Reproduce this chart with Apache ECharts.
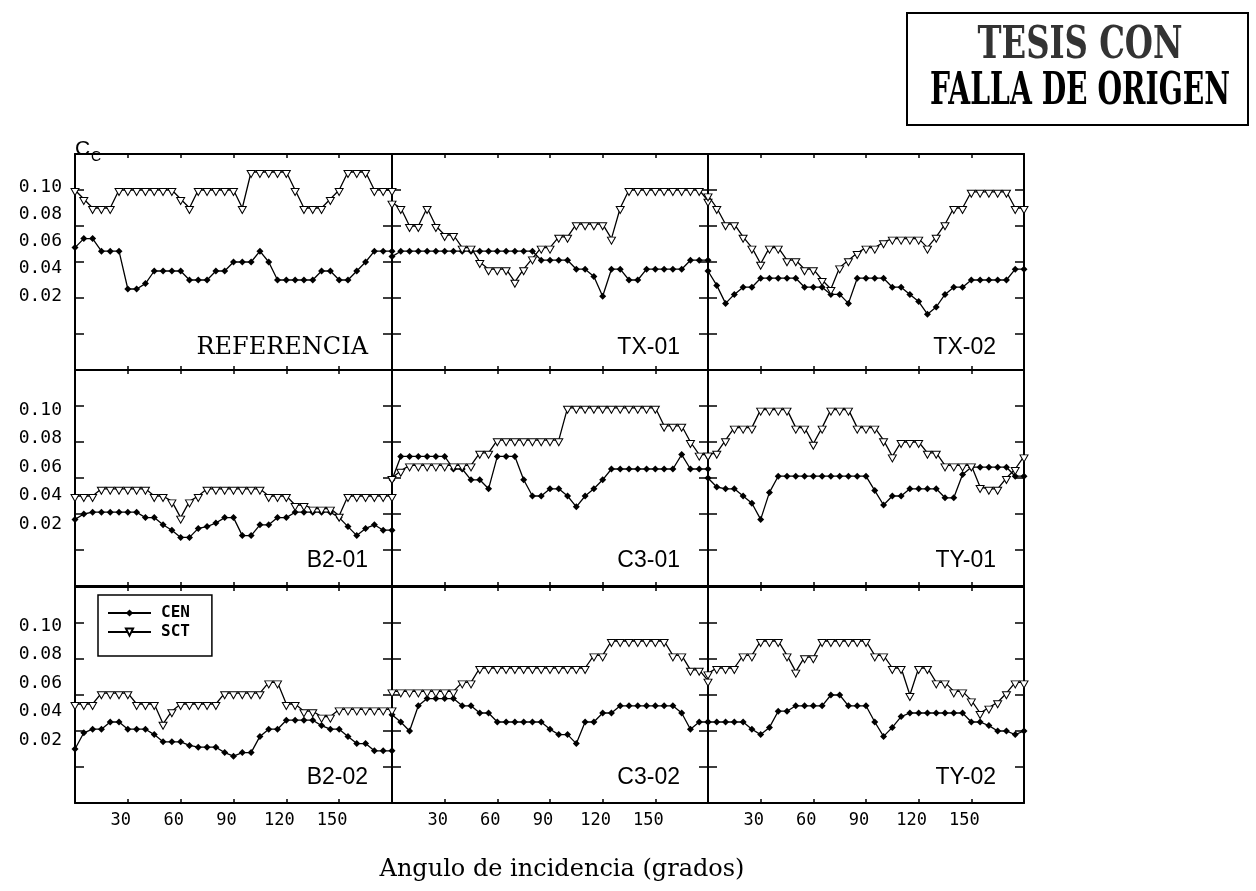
<!DOCTYPE html>
<html>
<head>
<meta charset="utf-8">
<script src="https://cdn.jsdelivr.net/npm/echarts@6/dist/echarts.min.js"></script>
<style>
html,body{margin:0;padding:0;background:#fff;}
#chart{width:1256px;height:891px;}
</style>
</head>
<body>
<div id="chart"></div>
<script>
// Incidence angles (degrees), shared by every panel
const angles = [0,5,10,15,20,25,30,35,40,45,50,55,60,65,70,75,80,85,90,95,100,105,110,115,120,125,130,135,140,145,150,155,160,165,170,175,180];

const xTickLabels = [30, 60, 90, 120, 150];
const yTickLabels = ['0.02', '0.04', '0.06', '0.08', '0.10'];
const panelNames = ['REFERENCIA', 'TX-01', 'TX-02', 'B2-01', 'C3-01', 'TY-01', 'B2-02', 'C3-02', 'TY-02'];
const seriesNames = ['CEN', 'SCT'];
const axisTitle = 'Angulo de incidencia (grados)';
const stampLines = ['TESIS CON', 'FALLA DE ORIGEN'];

// Cc per panel: CEN and SCT
const refCen = [0.068,0.073,0.073,0.066,0.066,0.066, 0.045,0.045,0.048,0.055,0.055,0.055, 0.055,0.050,0.050,0.050,0.055,0.055, 0.060,0.060,0.060,0.066,0.060,0.050, 0.050,0.050,0.050,0.050,0.055,0.055, 0.050,0.050,0.055,0.060,0.066,0.066,0.066];
const refSct = [0.100,0.095,0.090,0.090,0.090,0.100, 0.100,0.100,0.100,0.100,0.100,0.100, 0.095,0.090,0.100,0.100,0.100,0.100, 0.100,0.090,0.110,0.110,0.110,0.110, 0.110,0.100,0.090,0.090,0.090,0.095, 0.100,0.110,0.110,0.110,0.100,0.100,0.100];

const tx01Cen = [0.063,0.066,0.066,0.066,0.066,0.066, 0.066,0.066,0.066,0.066,0.066,0.066, 0.066,0.066,0.066,0.066,0.066,0.061, 0.061,0.061,0.061,0.056,0.056,0.052, 0.041,0.056,0.056,0.050,0.050,0.056, 0.056,0.056,0.056,0.056,0.061,0.061,0.061];
const tx01Sct = [0.093,0.090,0.080,0.080,0.090,0.080, 0.075,0.075,0.068,0.068,0.060,0.056, 0.056,0.056,0.049,0.056,0.062,0.068, 0.068,0.074,0.074,0.081,0.081,0.081, 0.081,0.073,0.090,0.100,0.100,0.100, 0.100,0.100,0.100,0.100,0.100,0.100,0.094];

const tx02Cen = [0.055,0.047,0.037,0.042,0.046,0.046, 0.051,0.051,0.051,0.051,0.051,0.046, 0.046,0.046,0.042,0.042,0.037,0.051, 0.051,0.051,0.051,0.046,0.046,0.042, 0.038,0.031,0.035,0.042,0.046,0.046, 0.050,0.050,0.050,0.050,0.050,0.056,0.056];
const tx02Sct = [0.097,0.090,0.081,0.081,0.074,0.068, 0.059,0.068,0.068,0.061,0.061,0.056, 0.056,0.050,0.045,0.057,0.061,0.065, 0.068,0.068,0.071,0.073,0.073,0.073, 0.073,0.068,0.074,0.081,0.090,0.090, 0.099,0.099,0.099,0.099,0.099,0.090,0.090];

const b201Cen = [0.037,0.040,0.041,0.041,0.041,0.041, 0.041,0.041,0.038,0.038,0.034,0.031, 0.027,0.027,0.032,0.033,0.035,0.038, 0.038,0.028,0.028,0.034,0.034,0.038, 0.038,0.041,0.041,0.041,0.041,0.041, 0.038,0.033,0.028,0.032,0.034,0.031,0.031];
const b201Sct = [0.050,0.050,0.050,0.054,0.054,0.054, 0.054,0.054,0.054,0.050,0.050,0.047, 0.038,0.047,0.050,0.054,0.054,0.054, 0.054,0.054,0.054,0.054,0.050,0.050, 0.050,0.045,0.045,0.043,0.043,0.043, 0.039,0.050,0.050,0.050,0.050,0.050,0.050];

const c301Cen = [0.059,0.072,0.072,0.072,0.072,0.072, 0.072,0.065,0.065,0.059,0.059,0.054, 0.072,0.072,0.072,0.059,0.050,0.050, 0.054,0.054,0.050,0.044,0.050,0.054, 0.059,0.065,0.065,0.065,0.065,0.065, 0.065,0.065,0.065,0.073,0.065,0.065,0.065];
const c301Sct = [0.060,0.064,0.067,0.067,0.067,0.067, 0.067,0.067,0.067,0.067,0.074,0.074, 0.081,0.081,0.081,0.081,0.081,0.081, 0.081,0.081,0.099,0.099,0.099,0.099, 0.099,0.099,0.099,0.099,0.099,0.099, 0.099,0.089,0.089,0.089,0.080,0.073,0.073];

const ty01Cen = [0.060,0.055,0.054,0.054,0.050,0.046, 0.037,0.052,0.061,0.061,0.061,0.061, 0.061,0.061,0.061,0.061,0.061,0.061, 0.061,0.053,0.045,0.050,0.050,0.054, 0.054,0.054,0.054,0.049,0.049,0.062, 0.066,0.066,0.066,0.066,0.066,0.061,0.061];
const ty01Sct = [0.073,0.074,0.081,0.088,0.088,0.088, 0.098,0.098,0.098,0.098,0.088,0.088, 0.079,0.088,0.098,0.098,0.098,0.088, 0.088,0.088,0.081,0.072,0.080,0.080, 0.080,0.074,0.074,0.067,0.067,0.067, 0.067,0.055,0.054,0.054,0.060,0.065,0.072];

const b202Cen = [0.030,0.039,0.041,0.041,0.045,0.045, 0.041,0.041,0.041,0.038,0.034,0.034, 0.034,0.032,0.031,0.031,0.031,0.028, 0.026,0.028,0.028,0.037,0.041,0.041, 0.046,0.046,0.046,0.046,0.043,0.041, 0.041,0.037,0.033,0.033,0.029,0.029,0.029];
const b202Sct = [0.055,0.055,0.055,0.061,0.061,0.061, 0.061,0.055,0.055,0.055,0.044,0.051, 0.055,0.055,0.055,0.055,0.055,0.061, 0.061,0.061,0.061,0.061,0.067,0.067, 0.055,0.055,0.051,0.051,0.048,0.048, 0.052,0.052,0.052,0.052,0.052,0.052,0.052];

const c302Cen = [0.049,0.045,0.040,0.054,0.058,0.058, 0.058,0.058,0.054,0.054,0.050,0.050, 0.045,0.045,0.045,0.045,0.045,0.045, 0.041,0.038,0.038,0.033,0.045,0.045, 0.050,0.050,0.054,0.054,0.054,0.054, 0.054,0.054,0.054,0.050,0.041,0.045,0.045];
const c302Sct = [0.062,0.062,0.062,0.062,0.062,0.062, 0.062,0.062,0.067,0.067,0.075,0.075, 0.075,0.075,0.075,0.075,0.075,0.075, 0.075,0.075,0.075,0.075,0.075,0.082, 0.082,0.090,0.090,0.090,0.090,0.090, 0.090,0.090,0.082,0.082,0.074,0.074,0.068];

const ty02Cen = [0.045,0.045,0.045,0.045,0.045,0.041, 0.038,0.042,0.051,0.051,0.054,0.054, 0.054,0.054,0.060,0.060,0.054,0.054, 0.054,0.045,0.037,0.042,0.048,0.050, 0.050,0.050,0.050,0.050,0.050,0.050, 0.045,0.045,0.043,0.040,0.040,0.038,0.040];
const ty02Sct = [0.072,0.075,0.075,0.075,0.082,0.082, 0.090,0.090,0.090,0.082,0.073,0.081, 0.081,0.090,0.090,0.090,0.090,0.090, 0.090,0.082,0.082,0.075,0.075,0.060, 0.075,0.075,0.067,0.067,0.062,0.062, 0.057,0.050,0.053,0.056,0.061,0.067,0.067];

const panelCen = [refCen, tx01Cen, tx02Cen, b201Cen, c301Cen, ty01Cen, b202Cen, c302Cen, ty02Cen];
const panelSct = [refSct, tx01Sct, tx02Sct, b201Sct, c301Sct, ty01Sct, b202Sct, c302Sct, ty02Sct];

// Layout of the 3x3 panel block
const colLeft = [75, 392, 708];
const colWidth = [317, 316, 316];
const rowTop = [154, 370, 587];
const rowHeight = 216;
const labelBand = [[187, 296], [410, 524], [626, 740]]; // y-extent of the printed tick labels per row

const black = '#000';
const frame = { show: true, onZero: false, lineStyle: { color: black, width: 2 } };
const monoFont = '"DejaVu Sans Mono", monospace';

const grids = [], xAxes = [], yAxes = [], series = [], graphics = [];

for (let i = 0; i < 9; i++) {
  const r = Math.floor(i / 3), c = i % 3;
  grids.push({ left: colLeft[c], top: rowTop[r], width: colWidth[c], height: rowHeight,
               containLabel: false, outerBoundsMode: 'none' });
  const xBase = {
    gridIndex: i, type: 'value', min: 0, max: 180, interval: 30,
    axisLine: frame, splitLine: { show: false },
    axisTick: { show: true, inside: true, length: 4, lineStyle: { color: black, width: 1.5 } }
  };
  xAxes.push(Object.assign({}, xBase, {
    position: 'bottom',
    axisLabel: {
      show: r === 2, margin: 9, color: black, fontFamily: monoFont, fontSize: 17,
      padding: [0, 14, 0, 0],
      formatter: v => xTickLabels.includes(v) ? String(v) : ''
    }
  }));
  xAxes.push(Object.assign({}, xBase, { position: 'top', axisLabel: { show: false } }));
  const yBase = {
    gridIndex: i, type: 'value', min: 0, max: 0.12, interval: 0.02,
    axisLine: frame, splitLine: { show: false }, axisLabel: { show: false },
    axisTick: { show: true, inside: true, length: 9, lineStyle: { color: black, width: 1.5 } }
  };
  yAxes.push(Object.assign({}, yBase, { position: 'left' }));
  yAxes.push(Object.assign({}, yBase, { position: 'right' }));

  series.push({
    type: 'line', name: seriesNames[0], xAxisIndex: 2 * i, yAxisIndex: 2 * i,
    data: angles.map((a, k) => [a, panelCen[i][k]]),
    symbol: 'diamond', symbolSize: 7, showSymbol: true,
    itemStyle: { color: black }, lineStyle: { color: black, width: 1.3 },
    animation: false, z: 2
  });
  series.push({
    type: 'line', name: seriesNames[1], xAxisIndex: 2 * i, yAxisIndex: 2 * i,
    data: angles.map((a, k) => [a, panelSct[i][k]]),
    symbol: 'triangle', symbolRotate: 180, symbolSize: [8, 7], symbolOffset: [0, 2], showSymbol: true,
    itemStyle: { color: '#fff', borderColor: black, borderWidth: 1 },
    lineStyle: { color: black, width: 1.3 },
    animation: false, z: 3
  });

  // panel name in the lower-right corner
  const rightX = colLeft[c] + colWidth[c] - (c === 0 ? 24 : 28);
  const midY = rowTop[r] + rowHeight - (r === 0 ? 22 : 25);
  graphics.push({
    type: 'text', x: rightX, y: midY, z: 10,
    style: {
      text: panelNames[i], fill: black, align: 'right', verticalAlign: 'middle',
      font: i === 0 ? '24px "DejaVu Serif"' : '23px "Liberation Sans"'
    }
  });
}

// Tick-label columns on the left of each row
for (let r = 0; r < 3; r++) {
  grids.push({ left: colLeft[0], top: labelBand[r][0], width: 10, height: labelBand[r][1] - labelBand[r][0],
               containLabel: false, outerBoundsMode: 'none' });
  xAxes.push({ gridIndex: 9 + r, type: 'value', show: false });
  yAxes.push({
    gridIndex: 9 + r, type: 'category', data: yTickLabels, boundaryGap: false, position: 'left',
    axisLine: { show: false }, axisTick: { show: false }, splitLine: { show: false },
    axisLabel: { interval: 0, margin: 13, color: black, fontFamily: monoFont, fontSize: 18 }
  });
}

// Condensed stamp lettering
const measure = document.createElement('canvas').getContext('2d');
function fitScale(text, font, target) {
  measure.font = font;
  return target / measure.measureText(text).width;
}
const stampFont = 'bold 45px "DejaVu Serif"';

graphics.push(
  { type: 'text', x: 75, y: 139, style: { text: 'C', font: '21px "Liberation Sans"', fill: black } },
  { type: 'text', x: 91, y: 150, style: { text: 'C', font: '14px "Liberation Sans"', fill: black } },
  { type: 'text', x: 562, y: 870,
    style: { text: axisTitle, font: '24px "DejaVu Serif"', fill: black, align: 'center', verticalAlign: 'middle' } },
  { type: 'rect', shape: { x: 907, y: 13, width: 341, height: 112 },
    style: { fill: 'none', stroke: black, lineWidth: 2 } },
  { type: 'text', x: 1080, y: 46, scaleX: fitScale(stampLines[0], stampFont, 205),
    style: { text: stampLines[0], font: stampFont, fill: '#333', align: 'center', verticalAlign: 'middle' } },
  { type: 'text', x: 1080, y: 92, scaleX: fitScale(stampLines[1], stampFont, 300),
    style: { text: stampLines[1], font: stampFont, fill: black, align: 'center', verticalAlign: 'middle' } }
);

const chart = echarts.init(document.getElementById('chart'), null, { renderer: 'canvas' });
chart.setOption({
  animation: false,
  backgroundColor: '#fff',
  grid: grids,
  xAxis: xAxes,
  yAxis: yAxes,
  series: series,
  legend: {
    data: seriesNames, orient: 'vertical', left: 98, top: 595, selectedMode: false,
    borderColor: black, borderWidth: 1.5, backgroundColor: '#fff',
    padding: [10, 22, 16, 9], itemWidth: 43, itemHeight: 9, itemGap: 3,
    textStyle: { color: black, fontSize: 16, fontWeight: 'bold', fontFamily: monoFont, padding: [0, 0, 0, 5] }
  },
  graphic: graphics
});
</script>
</body>
</html>
